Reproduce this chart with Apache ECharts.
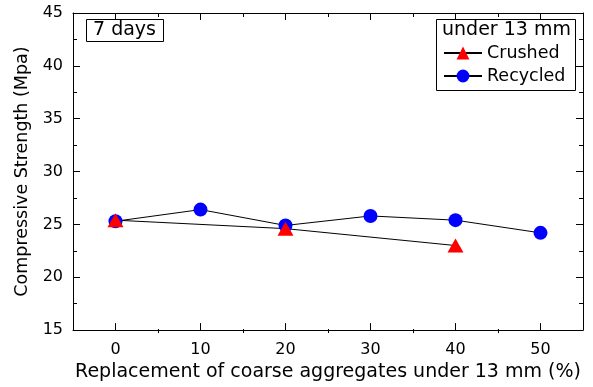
<!DOCTYPE html>
<html>
<head>
<meta charset="utf-8">
<script src="https://cdn.jsdelivr.net/npm/echarts@6/dist/echarts.min.js"></script>
<style>
html,body{margin:0;padding:0;background:#fff;}
#main{width:593px;height:387px;}
</style>
</head>
<body>
<div id="main"></div>
<script>
// data
var crushedX = [0, 20, 40];
var crushedY = [25.4, 24.6, 23.0];
var recycledX = [0, 10, 20, 30, 40, 50];
var recycledY = [25.3, 26.4, 24.9, 25.8, 25.4, 24.2];
var xMajor = [0, 10, 20, 30, 40, 50];
var xMinor = [5, 15, 25, 35, 45];

var font = 'DejaVu Sans';
var chart = echarts.init(document.getElementById('main'));

function pairs(xs, ys){
	var out = [];
	for(var i = 0; i < xs.length; i++){
		out.push([xs[i], ys[i]]);
	}
	return out;
}

var gridBox = {left:73, right:10, top:13, bottom:54};

// main x axes (major ticks + labels), grid 0
function xMain(pos, showLabel){
	return {
		type:'value', gridIndex:0, position:pos, min:-5, max:55,
		name: showLabel ? 'Replacement of coarse aggregates under 13 mm (%)' : '',
		nameLocation:'middle', nameGap:24,
		nameTextStyle:{fontFamily:font, fontSize:19, color:'#000'},
		axisLine:{show:true, onZero:false, lineStyle:{color:'#000', width:1}},
		axisTick:{show:true, inside:true, length:7, customValues:xMajor, lineStyle:{color:'#000'}},
		axisLabel:{show:showLabel, customValues:xMajor, margin:12, fontFamily:font, fontSize:16, color:'#000'},
		splitLine:{show:false}
	};
}
// minor x ticks on an overlaid grid
function xMinorAxis(pos){
	return {
		type:'value', gridIndex:1, position:pos, min:-5, max:55,
		axisLine:{show:false},
		axisTick:{show:true, inside:true, length:4, customValues:xMinor, lineStyle:{color:'#000'}},
		axisLabel:{show:false},
		splitLine:{show:false}
	};
}
function yMain(pos, showLabel, gi){
	return {
		type:'value', gridIndex:gi, position:pos, min:15, max:45, interval:5,
		name: showLabel ? 'Compressive Strength (Mpa)' : '',
		nameLocation:'middle', nameGap:42,
		nameTextStyle:{fontFamily:font, fontSize:17.5, color:'#000'},
		axisLine:{show:gi === 0, onZero:false, lineStyle:{color:'#000', width:1}},
		axisTick:{show:gi === 0, inside:true, length:7, lineStyle:{color:'#000'}},
		minorTick:{show:gi === 0, splitNumber:2, length:4, lineStyle:{color:'#000'}},
		axisLabel:{show:showLabel, margin:10, fontFamily:font, fontSize:16, color:'#000'},
		splitLine:{show:false},
		minorSplitLine:{show:false}
	};
}

var option = {
	animation:false,
	backgroundColor:'#fff',
	title:{
		text:'7 days', left:86, top:19,
		borderColor:'#000', borderWidth:1, padding:[2, 8, 2, 7],
		textStyle:{fontFamily:font, fontSize:19, fontWeight:'normal', color:'#000'}
	},
	grid:[
		{left:gridBox.left, right:gridBox.right, top:gridBox.top, bottom:gridBox.bottom},
		{left:gridBox.left, right:gridBox.right, top:gridBox.top, bottom:gridBox.bottom}
	],
	xAxis:[xMain('bottom', true), xMain('top', false), xMinorAxis('bottom'), xMinorAxis('top')],
	yAxis:[yMain('left', true, 0), yMain('right', false, 0), yMain('left', false, 1), yMain('right', false, 1)],
	legend:{
		data:['Crushed', 'Recycled'],
		orient:'vertical', left:443, top:44, padding:0,
		itemWidth:38, itemHeight:16, itemGap:5,
		textStyle:{fontFamily:font, fontSize:17.5, color:'#000'}
	},
	graphic:[{
		type:'rect', left:434, top:17,
		shape:{width:139, height:71},
		style:{fill:'none', stroke:'#000', lineWidth:1}
	},{
		type:'text', left:442, top:21,
		style:{text:'under 13 mm', font:'19px ' + font, fill:'#000'}
	}],
	series:[{
		name:'Recycled', type:'line', xAxisIndex:0, yAxisIndex:0,
		symbol:'circle', symbolSize:14,
		itemStyle:{color:'#0000ff'},
		lineStyle:{color:'#000', width:1},
		data:pairs(recycledX, recycledY)
	},{
		name:'Crushed', type:'line', xAxisIndex:0, yAxisIndex:0,
		symbol:'triangle', symbolSize:[16, 14],
		itemStyle:{color:'#ff0000'},
		lineStyle:{color:'#000', width:1},
		data:pairs(crushedX, crushedY)
	}]
};
chart.setOption(option);
</script>
</body>
</html>
